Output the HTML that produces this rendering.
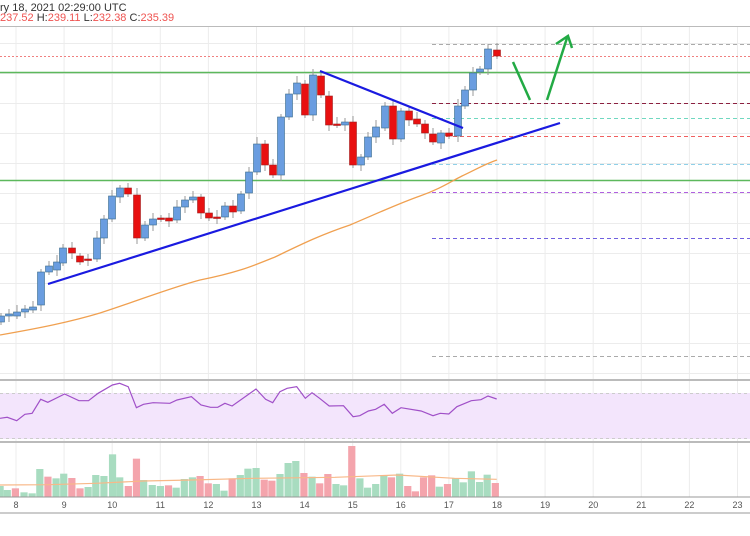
<!DOCTYPE html>
<html><head><meta charset="utf-8"><style>
html,body{margin:0;padding:0;background:#fff;}
svg{display:block;font-family:"Liberation Sans",sans-serif;}
</style></head><body>
<svg id="s" width="750" height="536" viewBox="0 0 750 536" xmlns="http://www.w3.org/2000/svg">
<rect width="750" height="536" fill="#fff"/>
<text x="0" y="11" font-size="11" fill="#333">ry 18, 2021 02:29:00 UTC</text>
<text x="0" y="21" font-size="11" fill="#333"><tspan fill="#ef5350">237.52</tspan> H:<tspan fill="#ef5350">239.11</tspan> L:<tspan fill="#ef5350">232.38</tspan> C:<tspan fill="#ef5350">235.39</tspan></text>
<line x1="0" y1="26.5" x2="750" y2="26.5" stroke="#bbb"/>
<g id="grid" stroke="#ececec" stroke-width="1"></g>
<g id="lv"></g>
<line x1="0" y1="56.5" x2="750" y2="56.5" stroke="#f08080" stroke-dasharray="2,2"/>
<line x1="0" y1="72.5" x2="750" y2="72.5" stroke="#5cb85c" stroke-width="1.5"/>
<line x1="0" y1="180.5" x2="750" y2="180.5" stroke="#5cb85c" stroke-width="1.5"/>
<path id="ma" fill="none" stroke="#f0a050" stroke-width="1.3"/>
<g id="c"></g>
<line x1="48" y1="284" x2="560" y2="123" stroke="#1a1ae0" stroke-width="2.2"/>
<line x1="320" y1="71" x2="463" y2="128" stroke="#1a1ae0" stroke-width="2.2"/>
<line x1="513" y1="62" x2="530" y2="100" stroke="#22aa44" stroke-width="2.5"/>
<line x1="547" y1="100" x2="567" y2="38" stroke="#22aa44" stroke-width="2.5"/>
<polyline points="556,44 568,36 572,48" fill="none" stroke="#22aa44" stroke-width="2.5"/>
<!-- RSI -->
<line x1="0" y1="380" x2="750" y2="380" stroke="#bbb" stroke-width="2"/>
<rect x="0" y="393" width="750" height="46" fill="#f3e5fc"/>
<line x1="0" y1="393.5" x2="750" y2="393.5" stroke="#ccc" stroke-dasharray="3,3"/>
<line x1="0" y1="438.5" x2="750" y2="438.5" stroke="#ccc" stroke-dasharray="3,3"/>
<line x1="0" y1="442" x2="750" y2="442" stroke="#bbb" stroke-width="2"/>
<polyline id="rsi" fill="none" stroke="#a050c8" stroke-width="1.2"/>
<g id="vol"></g>
<polyline id="vma" fill="none" stroke="#f8b888" stroke-width="1.2"/>
<line x1="0" y1="497" x2="750" y2="497" stroke="#999" stroke-width="1"/>
<g id="dt" font-size="9" fill="#555" text-anchor="middle"></g>
<line x1="0" y1="513" x2="750" y2="513" stroke="#999" stroke-width="1"/>
</svg>
<script>
var NS="http://www.w3.org/2000/svg";
function el(p,t,a){var e=document.createElementNS(NS,t);for(var k in a)e.setAttribute(k,a[k]);document.getElementById(p).appendChild(e);return e;}
for(var y=43;y<380;y+=30)el("grid","line",{x1:0,y1:y+.5,x2:750,y2:y+.5});
var days=[8,9,10,11,12,13,14,15,16,17,18,19,20,21,22,23];
days.forEach(function(d,i){var x=16+i*48.1;el("grid","line",{x1:x,y1:27,x2:x,y2:497});var t=el("dt","text",{x:x,y:508});t.textContent=d;});
var lv=[[44,"#aaa"],[72,"#f4a0a0"],[103,"#8b2040"],[118,"#70d8c0"],[136,"#f06060"],[164,"#90d0e8"],[192,"#b060e0"],[238,"#7060e0"],[356,"#aaa"]];
lv.forEach(function(l){el("lv","line",{x1:432,y1:l[0]+.5,x2:750,y2:l[0]+.5,stroke:l[1],"stroke-dasharray":"4,3"});});
// candles: x, open, close (y px)
var C=[[1,322,316],[9,316,314],[17,316,312],[25,312,309],[33,310,307],[41,305,272],[49,272,266],[57,270,262],[63,263,248],[72,248,253],[80,256,262],[88,259,260],[97,259,238],[104,238,219],[112,219,196],[120,197,188],[128,188,194],[137,195,238],[145,238,225],[153,225,219],[161,218,219],[169,218,221],[177,220,207],[185,207,200],[193,200,197],[201,197,213],[209,213,218],[217,217,218],[225,217,206],[233,206,212],[241,211,194],[249,193,172],[257,172,144],[265,144,165],[273,165,175],[281,175,117],[289,117,94],[297,94,83],[305,84,115],[313,115,75],[321,76,95],[329,96,125],[337,124,125],[345,125,122],[353,122,165],[361,165,157],[368,157,137],[376,137,127],[385,128,106],[393,106,139],[401,139,111],[409,111,120],[417,119,124],[425,124,133],[433,134,142],[441,143,133],[449,133,136],[458,136,106],[465,106,90],[473,90,73],[480,72,69],[488,69,49],[497,50,56]];
C.forEach(function(c,i){var up=c[2]<c[1];var t=Math.min(c[1],c[2]),b=Math.max(c[1],c[2]);
var hw=3+(i*7%5),lw=3+(i*3%6);
el("c","line",{x1:c[0],y1:t-hw,x2:c[0],y2:b+lw,stroke:"#999","stroke-width":1});
el("c","rect",{x:c[0]-3.5,y:t,width:7,height:Math.max(b-t,1.5),fill:up?"#6a9de0":"#e81010",stroke:up?"#3a6a8a":"#a02020","stroke-width":.6});});
document.getElementById("ma").setAttribute("d","M0,335 C40,328 70,322 100,313 C140,300 170,288 200,280 C240,272 255,265 275,257 C300,245 320,235 350,225 C385,210 400,203 420,196 C440,189 450,182 462,176 C475,170 485,164 497,160");
var R=[[0,145],[15,142],[35,152],[52,133],[67,130],[85,88],[100,97],[135,72],[165,92],[185,92],[205,70],[235,45],[250,40],[268,50],[285,113],[300,103],[320,98],[355,100],[370,90],[400,80],[420,105],[440,112],[455,112],[470,100],[485,108],[535,57],[555,88],[570,98],[585,65],[600,55],[620,50],[638,85],[652,68],[668,85],[688,108],[718,107],[738,140],[752,137],[770,123],[785,118],[803,103],[820,130],[838,113],[880,123],[905,137],[920,130],[938,132],[955,110],[985,92],[1005,89],[1020,78],[1038,87]];
document.getElementById("rsi").setAttribute("points",R.map(function(p){return (p[0]/2.09).toFixed(1)+","+(370+p[1]/3).toFixed(1)}).join(" "));
var V=[[0,348,1],[15,360,1],[32,355,0],[50,367,1],[67,370,1],[83,297,1],[100,320,0],[117,325,1],[133,311,1],[150,324,0],[167,355,0],[184,351,1],[200,315,1],[217,318,1],[235,253,1],[250,322,1],[268,348,0],[285,266,0],[300,330,1],[318,345,1],[335,348,1],[352,346,0],[368,353,1],[385,327,1],[402,322,1],[418,318,0],[435,340,0],[452,342,1],[468,362,1],[485,325,0],[502,315,1],[518,296,1],[535,294,1],[552,329,0],[568,332,0],[585,312,1],[602,279,1],[618,273,1],[635,309,0],[652,320,1],[668,340,0],[685,312,0],[702,342,1],[718,346,1],[735,228,0],[752,325,1],[768,353,1],[785,342,1],[802,315,1],[818,322,0],[835,311,1],[852,348,0],[868,364,0],[885,322,0],[902,316,0],[918,350,1],[935,342,0],[952,324,1],[968,337,1],[985,304,1],[1002,336,1],[1018,314,1],[1035,339,0]];
V.forEach(function(v){var x=v[0]/2.09,y=370+v[1]/3;el("vol","rect",{x:x-3.5,y:y,width:7.2,height:497-y,fill:v[2]?"#a8dcc0":"#f4a4ac"});});
var VM=[[0,345],[100,344],[200,340],[300,333],[400,330],[530,325],[700,322],[830,315],[950,325],[1038,328]];
document.getElementById("vma").setAttribute("points",VM.map(function(p){return (p[0]/2.09).toFixed(1)+","+(370+p[1]/3).toFixed(1)}).join(" "));
</script>
</body></html>
